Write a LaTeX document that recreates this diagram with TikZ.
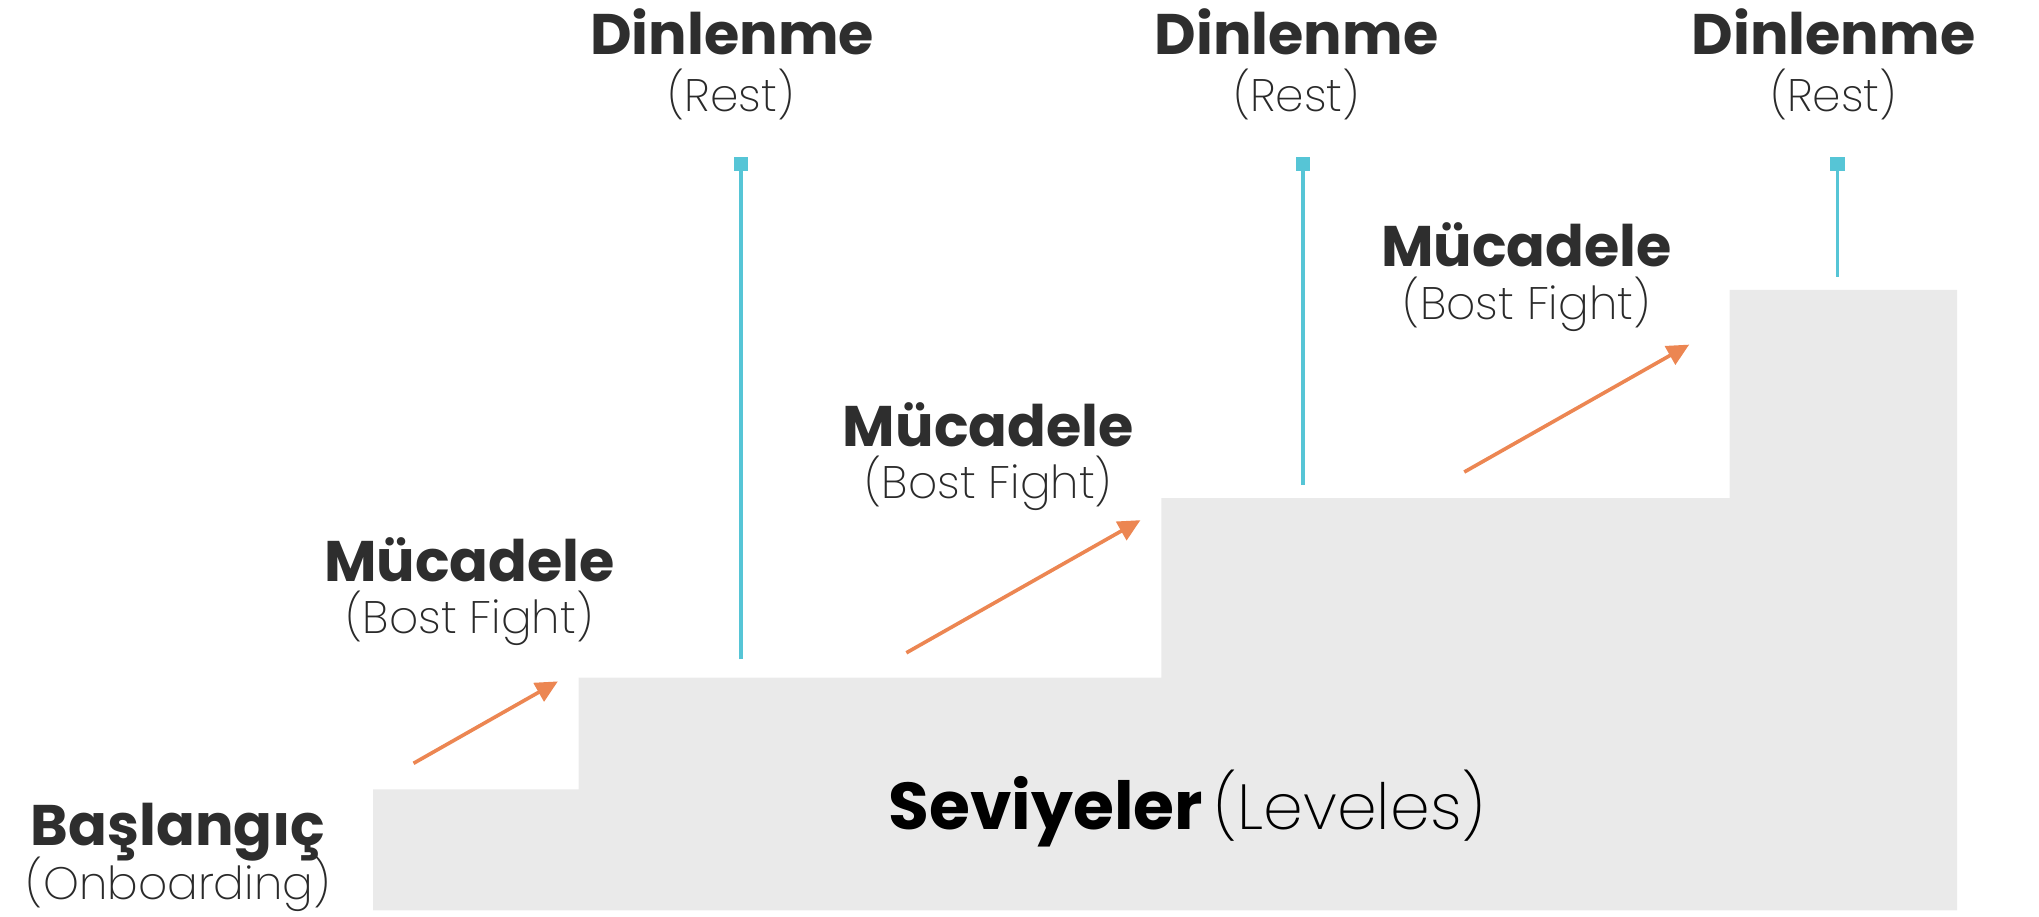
\documentclass[tikz,border=0pt]{standalone}
\usepackage{fontspec}
\usetikzlibrary{arrows.meta}
\setmainfont{Poppins}
\newfontfamily\lightfont{Poppins ExtraLight}

\definecolor{ink}{HTML}{2E2E2E}
\definecolor{inksoft}{HTML}{2A2A2A}
\definecolor{stairgray}{HTML}{EAEAEA}
\definecolor{teal}{HTML}{56C5D6}
\definecolor{fightorange}{HTML}{EC8652}

\tikzset{
  headline/.style={anchor=base, inner sep=0pt, text=ink,
    font=\bfseries\fontsize{22}{26}\selectfont},
  subline/.style={anchor=base, inner sep=0pt, text=inksoft,
    font=\lightfont\fontsize{17.5}{20}\selectfont},
  postcap/.style={fill=teal, minimum size=5.5pt, inner sep=0pt, draw=none},
  postline/.style={draw=teal, line width=1.4pt},
  fightarrow/.style={draw=fightorange, line width=1.4pt,
    -{Triangle[length=8.5pt,width=8pt]}, fightorange},
}

\begin{document}
\begin{tikzpicture}[x=0.5pt, y=-0.5pt]
  \useasboundingbox (0,0) rectangle (1568,705);

  % staircase of levels
  \fill[stairgray] (287,700) -- (287,607) -- (445,607) -- (445,521)
    -- (893,521) -- (893,383) -- (1330,383) -- (1330,223)
    -- (1505,223) -- (1505,700) -- cycle;

  \node[anchor=base, inner sep=0pt, text=black] (levels) at (913,638)
    {{\bfseries\fontsize{25.5}{32}\selectfont Seviyeler}\hspace{4pt}%
     {\lightfont\fontsize{24.5}{30}\selectfont(Leveles)}};

  % start
  \node[headline] (start) at (137,650) {Başlangıç};
  \node[subline] (startsub) at (137,692) {(Onboarding)};

  % challenges
  \node[headline] (fight1) at (361,447) {Mücadele};
  \node[subline] (fight1sub) at (361,487) {(Bost Fight)};
  \node[headline] (fight2) at (760,343) {Mücadele};
  \node[subline] (fight2sub) at (760,383) {(Bost Fight)};
  \node[headline] (fight3) at (1174,205) {Mücadele};
  \node[subline] (fight3sub) at (1174,246) {(Bost Fight)};

  % rest labels
  \node[headline] (rest1) at (563,42) {Dinlenme};
  \node[subline] (rest1sub) at (562,86) {(Rest)};
  \node[headline] (rest2) at (997,42) {Dinlenme};
  \node[subline] (rest2sub) at (997,86) {(Rest)};
  \node[headline] (rest3) at (1410,42) {Dinlenme};
  \node[subline] (rest3sub) at (1410,86) {(Rest)};

  % rest posts
  \node[postcap] (post1top) at (570,126) {};
  \coordinate (post1foot) at (570,507);
  \draw[postline] (post1foot) -- (post1top.center);
  \node[postcap] (post2top) at (1002,126) {};
  \coordinate (post2foot) at (1002,373);
  \draw[postline] (post2foot) -- (post2top.center);
  \node[postcap] (post3top) at (1413,126) {};
  \coordinate (post3foot) at (1413,213);
  \draw[postline] (post3foot) -- (post3top.center);

  % climbing arrows
  \coordinate (climb1from) at (318,587);
  \coordinate (climb1to) at (429,524);
  \draw[fightarrow] (climb1from) -- (climb1to);
  \coordinate (climb2from) at (697,502);
  \coordinate (climb2to) at (877,400);
  \draw[fightarrow] (climb2from) -- (climb2to);
  \coordinate (climb3from) at (1126,363);
  \coordinate (climb3to) at (1299,265);
  \draw[fightarrow] (climb3from) -- (climb3to);
\end{tikzpicture}
\end{document}
